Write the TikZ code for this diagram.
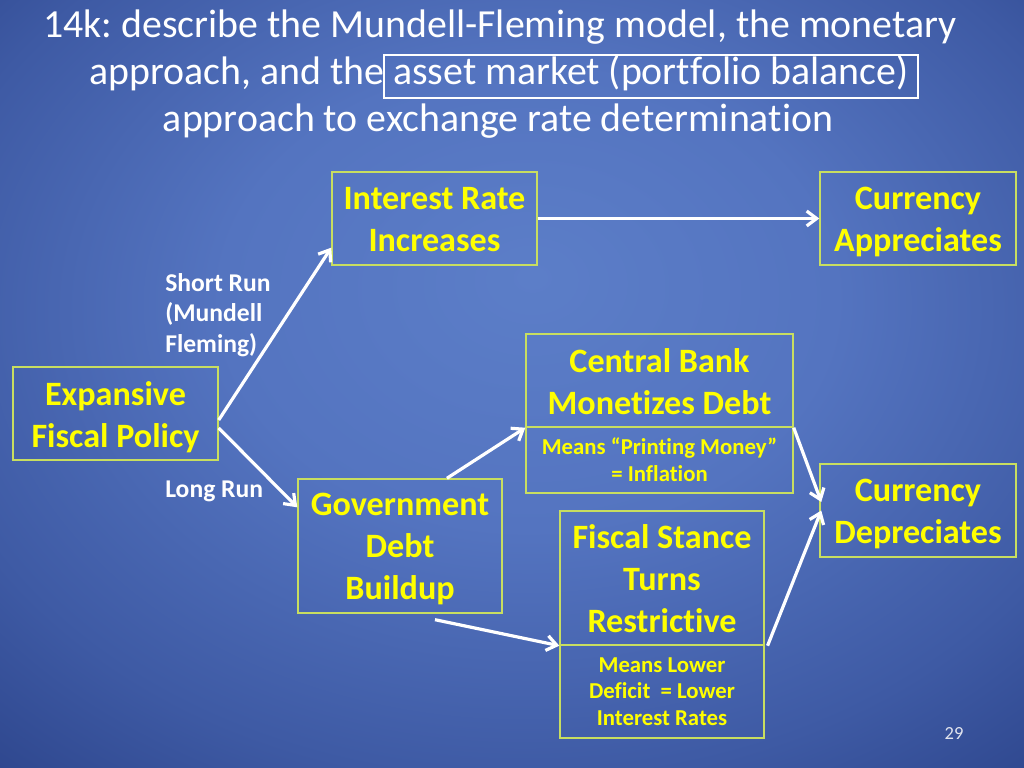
\documentclass[tikz,border=0pt]{standalone}
\usepackage{fontspec}
\setmainfont{Carlito}[Ligatures={NoCommon}]
\usetikzlibrary{arrows.meta}
\definecolor{boxc}{RGB}{200,222,96}
\definecolor{ytext}{RGB}{255,255,0}
\definecolor{pgnum}{RGB}{225,228,238}
\definecolor{bgA}{RGB}{92,126,200}
\definecolor{bgB}{RGB}{84,116,192}
\definecolor{bgC}{RGB}{62,90,164}
\definecolor{bgD}{RGB}{40,63,133}
\definecolor{bgE}{RGB}{26,43,106}
\definecolor{bgF}{RGB}{16,28,86}
\pgfdeclareradialshading{slidebg}{\pgfpoint{1bp}{7bp}}{color(0bp)=(bgA); color(15bp)=(bgB); color(30bp)=(bgC); color(42bp)=(bgD); color(53bp)=(bgE); color(72bp)=(bgF)}
\begin{document}
\frenchspacing
\begin{tikzpicture}[x=0.703125pt,y=-0.703125pt,
  box/.style 2 args={draw=boxc, line width=1pt, minimum width=#1*0.703125pt,
    minimum height=#2*0.703125pt, inner sep=0pt},
  btxt/.style={inner sep=0pt, text=ytext,
    font=\fontsize{24}{29.5}\selectfont\bfseries, align=center,
    execute at begin node=\strut, execute at end node=\strut},
  stxt/.style={btxt, font=\fontsize{16}{18.7}\selectfont\bfseries},
  lbl/.style={text=white, font=\fontsize{18}{21.5}\selectfont\bfseries, inner sep=0pt, anchor=base west},
  ttl/.style={text=white, font=\fontsize{28}{33}\selectfont, inner sep=0pt, anchor=base},
  arr/.style={draw=white, line width=2.25pt, -{Straight Barb[length=7pt,width=10.5pt]}}]
\shade[shading=slidebg] (0,0) rectangle (1024,768);
% title
\node[ttl] (t1) at (500,38) {14k: describe the Mundell-Fleming model, the monetary};
\node[ttl] (t2) at (499,85) {approach, and the asset market (portfolio balance)};
\node[ttl] (t3) at (498,132) {approach to exchange rate determination};
\node[draw=white, line width=1.5pt, minimum width=534*0.703125pt, minimum height=43*0.703125pt, inner sep=0pt] (tbox) at (651,76.5) {};
% boxes
\node[box={205}{93}] (ir) at (434.5,218.5) {};
\node[box={196}{93}] (ca) at (918,218.5) {};
\node[box={205}{93}] (exp) at (115.5,413.5) {};
\node[box={267}{93}] (cb) at (659.5,380.5) {};
\node[box={267}{66}] (cbn) at (659.5,460) {};
\node[box={196}{93}] (cd) at (918,510.5) {};
\node[box={204}{134}] (gov) at (400,546) {};
\node[box={204}{134}] (fs) at (662,578) {};
\node[box={204}{93}] (fsn) at (662,691.5) {};
% box texts
\node[btxt] (irT) at ([yshift=-4.9pt]ir.center) {Interest Rate\\Increases};
\node[btxt] (caT) at ([yshift=-4.9pt]ca.center) {Currency\\Appreciates};
\node[btxt] (expT) at ([yshift=-4.9pt]exp.center) {Expansive\\Fiscal Policy};
\node[btxt] (cbT) at ([yshift=-4.9pt]cb.center) {Central Bank\\Monetizes Debt};
\node[stxt] (cbnT) at ([yshift=-2.6pt]cbn.center) {Means “Printing Money”\\= Inflation};
\node[btxt] (cdT) at ([yshift=-4.9pt]cd.center) {Currency\\Depreciates};
\node[btxt] (govT) at ([yshift=-4.9pt]gov.center) {Government\\Debt\\Buildup};
\node[btxt] (fsT) at ([yshift=-4.9pt]fs.center) {Fiscal Stance\\Turns\\Restrictive};
\node[stxt] (fsnT) at ([yshift=-2.8pt]fsn.center) {Means Lower\\Deficit\ \ = Lower\\Interest Rates};
% labels
\node[lbl] (sr1) at (165,292) {Short Run};
\node[lbl] (sr2) at (165,322) {(Mundell};
\node[lbl] (sr3) at (165,352) {Fleming)};
\node[lbl] (lr) at (165,497) {Long Run};
\node[text=pgnum, font=\fontsize{13}{15}\selectfont, inner sep=0pt, anchor=base] (pg) at (954,739) {29};
% connectors
\draw[arr] ([yshift=-4.6pt]exp.east) -- ([yshift=12.7pt]ir.south west);
\draw[arr] ([yshift=-10.2pt]exp.east) -- ([yshift=-20.4pt]gov.north west);
\draw[arr] (ir.east) -- (ca.west);
\draw[arr] ([xshift=33pt]gov.north) -- (cb.south west);
\draw[arr] ([xshift=24.6pt,yshift=-4.2pt]gov.south) -- (fs.south west);
\draw[arr] (cb.south east) -- ([xshift=1.4pt,yshift=6pt]cd.west);
\draw[arr] ([xshift=2pt]fs.south east) -- ([xshift=1.4pt]cd.west);
\end{tikzpicture}
\end{document}
